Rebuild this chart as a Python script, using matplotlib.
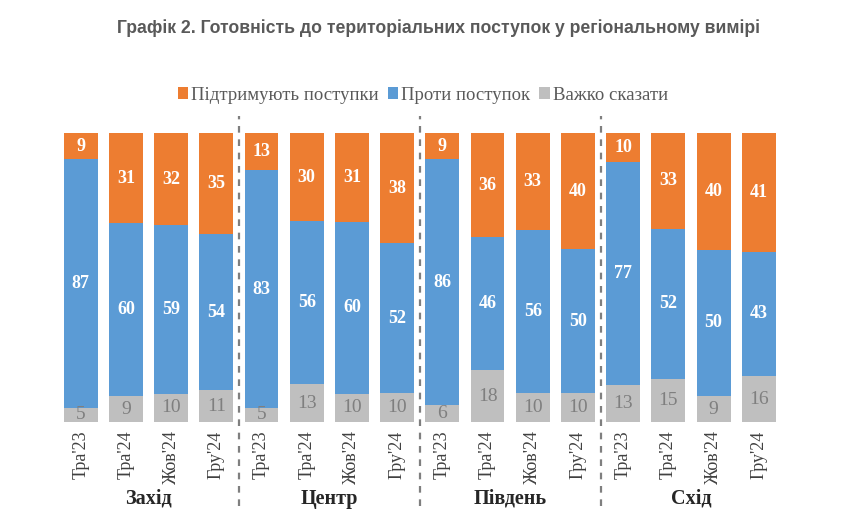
import numpy as np
import matplotlib
matplotlib.use("Agg")
import matplotlib.pyplot as plt
import matplotlib.transforms as mtransforms

regions = ["Захід", "Центр", "Південь", "Схід"]
periods = ["Тра'23", "Тра'24", "Жов'24", "Гру'24"]

support = [9, 31, 32, 35, 13, 30, 31, 38, 9, 36, 33, 40, 10, 33, 40, 41]
against = [87, 60, 59, 54, 83, 56, 60, 52, 86, 46, 56, 50, 77, 52, 50, 43]
unsure = [5, 9, 10, 11, 5, 13, 10, 10, 6, 18, 10, 10, 13, 15, 9, 16]

c_support = "#ED7D31"
c_against = "#5B9BD5"
c_unsure = "#BFBFBF"

serif = ["Liberation Serif", "DejaVu Serif"]
plt.rcParams["font.family"] = serif


def main():
    s = np.array(support, float)
    a = np.array(against, float)
    u = np.array(unsure, float)
    tot = s + a + u
    # 100% stacked, як в Excel
    sp, ap, up = s / tot * 100, a / tot * 100, u / tot * 100

    fig = plt.figure(figsize=(8.42, 5.29), dpi=100)
    ax = fig.add_axes([0.069, 0.202, 0.859, 0.546])

    x = np.arange(len(support))
    w = 0.75
    b1 = ax.bar(x, up, w, color=c_unsure, label="Важко сказати")
    b2 = ax.bar(x, ap, w, bottom=up, color=c_against, label="Проти поступок")
    b3 = ax.bar(x, sp, w, bottom=up + ap, color=c_support, label="Підтримують поступки")

    for i in x:
        ax.text(i, up[i] / 2, str(unsure[i]), ha="center", va="center",
                color="#7F7F7F", fontsize=14)
        ax.text(i, up[i] + ap[i] / 2, str(against[i]), ha="center", va="center",
                color="white", fontsize=13, fontweight="bold")
        ax.text(i, up[i] + ap[i] + sp[i] / 2, str(support[i]), ha="center", va="center",
                color="white", fontsize=13, fontweight="bold")

    ax.set_xlim(-0.5, len(x) - 0.5)
    ax.set_ylim(0, 100)
    ax.set_yticks([])
    ax.set_xticks(x)
    ax.set_xticklabels(periods * len(regions), rotation=90, fontsize=13, color="#404040")
    ax.tick_params(axis="x", length=0, pad=6)
    for sp_ in ax.spines.values():
        sp_.set_visible(False)

    trans = mtransforms.blended_transform_factory(ax.transData, ax.transAxes)
    for k in range(1, len(regions)):
        xs = k * len(periods) - 0.5
        ax.plot([xs, xs], [-0.29, 1.06], transform=trans, clip_on=False,
                color="#7F7F7F", lw=1.6, ls=(0, (3, 3)))
    for k, r in enumerate(regions):
        xc = k * len(periods) + 1.5
        ax.text(xc, -0.265, r, transform=trans, ha="center", va="center",
                fontsize=14.5, fontweight="bold", color="#262626")

    handles = [b3, b2, b1]
    fig.legend(handles, [h.get_label() for h in handles], loc="center",
               bbox_to_anchor=(0.502, 0.82), ncol=3, frameon=False,
               fontsize=13.5, handlelength=0.55, handleheight=0.55,
               handletextpad=0.15, columnspacing=0.5, labelcolor="#595959")

    fig.text(0.521, 0.946, "Графік 2. Готовність до територіальних поступок у регіональному вимірі",
             ha="center", va="center", fontsize=12.7, fontweight="bold", color="#595959",
             family=["Liberation Sans Narrow", "Liberation Sans", "DejaVu Sans"])

    fig.savefig("out.png", dpi=100)


if __name__ == "__main__":
    main()
